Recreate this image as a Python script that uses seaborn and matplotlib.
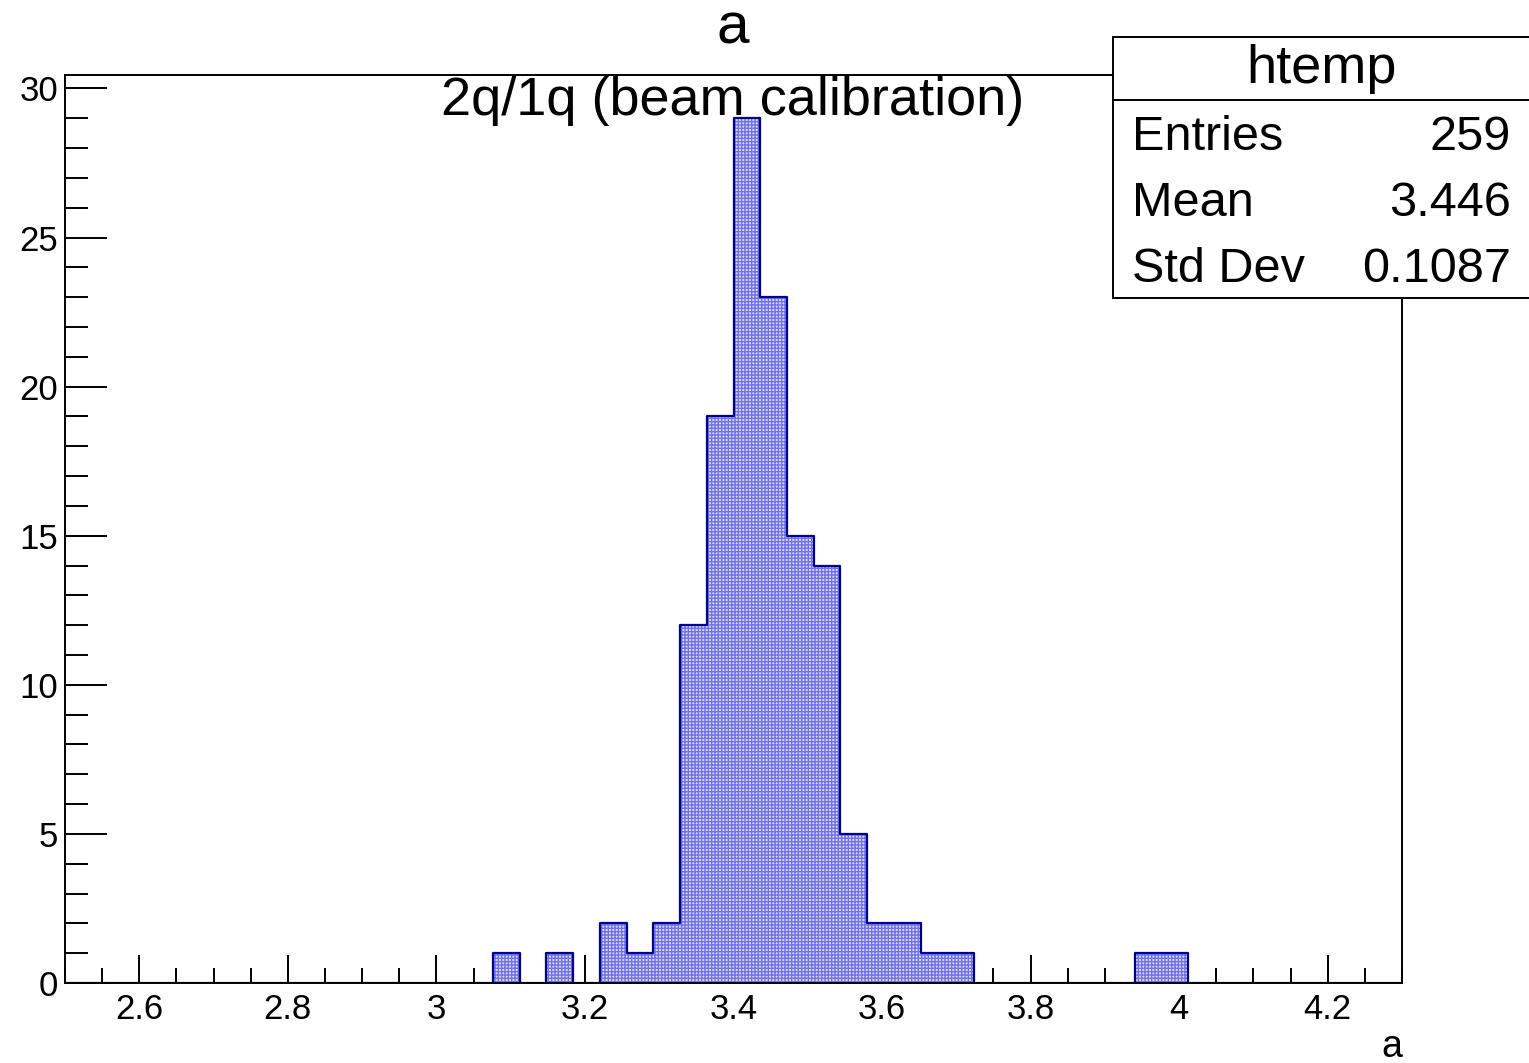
import numpy as np
import pandas as pd
import matplotlib
matplotlib.use("Agg")
import matplotlib.pyplot as plt
from matplotlib.patches import Rectangle
from matplotlib.lines import Line2D
from matplotlib.ticker import MultipleLocator, FuncFormatter
import seaborn as sns

# ---- data ----
x_min, x_max, n_bins = 2.5, 4.3, 50
counts = [0, 0, 0, 0, 0, 0, 0, 0, 0, 0,
          0, 0, 0, 0, 0, 0, 1, 0, 1, 0,
          2, 1, 2, 12, 19, 29, 23, 15, 14, 5,
          2, 2, 1, 1, 0, 0, 0, 0, 0, 0,
          1, 1, 0, 0, 0, 0, 0, 0, 0, 0]
title = "a"
subtitle = "2q/1q (beam calibration)"
x_label = "a"
stats_name = "htemp"
stats_labels = ["Entries", "Mean", "Std Dev"]
stats_values = ["259", "3.446", "0.1087"]

edges = np.linspace(x_min, x_max, n_bins + 1)
centers = 0.5 * (edges[:-1] + edges[1:])
df = pd.DataFrame({"a": centers, "n": counts})

sns.set_theme(style="white")
plt.rcParams["font.family"] = ["Liberation Sans", "DejaVu Sans"]
plt.rcParams["hatch.linewidth"] = 1.0
plt.rcParams["text.color"] = "black"
plt.rcParams["xtick.color"] = "black"
plt.rcParams["ytick.color"] = "black"

W, H = 1529, 1063
fig = plt.figure(figsize=(W / 100, H / 100), dpi=100)
L, R, T, B = 65, 1402, 75, 983
ax = fig.add_axes([L / W, 1 - B / H, (R - L) / W, (B - T) / H])

# filled, hatched body
sns.histplot(data=df, x="a", weights="n", bins=n_bins, binrange=(x_min, x_max),
             element="step", fill=True,
             facecolor="#dedefc", edgecolor="#7070e8", hatch="+++++", linewidth=0,
             alpha=1.0, ax=ax)
# dark blue outline
sns.histplot(data=df, x="a", weights="n", bins=n_bins, binrange=(x_min, x_max),
             element="step", fill=False, color="#000099", linewidth=1.6, ax=ax)

ax.set_xlim(x_min, x_max)
ax.set_ylim(0, max(counts) * 1.05)
ax.set_xlabel("")
ax.set_ylabel("")

ax.xaxis.set_major_locator(MultipleLocator(0.2))
ax.xaxis.set_minor_locator(MultipleLocator(0.05))
ax.yaxis.set_major_locator(MultipleLocator(5))
ax.yaxis.set_minor_locator(MultipleLocator(1))
ax.xaxis.set_major_formatter(FuncFormatter(lambda v, p: f"{v:g}"))
ax.yaxis.set_major_formatter(FuncFormatter(lambda v, p: f"{v:g}"))

ax.tick_params(axis="both", which="both", direction="in", colors="black",
               labelcolor="black",
               top=False, right=False, bottom=True, left=True, width=1.4)
ax.tick_params(axis="x", which="major", length=20, pad=7, labelsize=25)
ax.tick_params(axis="x", which="minor", length=10.5)
ax.tick_params(axis="y", which="major", length=30, pad=5, labelsize=25)
ax.tick_params(axis="y", which="minor", length=16.5)
for s in ax.spines.values():
    s.set_visible(True)
    s.set_color("black")
    s.set_linewidth(1.4)

# titles
fig.text(733 / W, 1 - 43 / H, title, ha="center", va="baseline", fontsize=42)
fig.text(733 / W, 1 - 115 / H, subtitle, ha="center", va="baseline", fontsize=39)
fig.text(R / W, 1 - 1057 / H, x_label, ha="right", va="baseline", fontsize=27)

# stats box
bx0, by0, by1, bline = 1113, 37, 298, 100
fig.patches.append(Rectangle((bx0 / W, 1 - by1 / H), (W + 10 - bx0) / W, (by1 - by0) / H,
                             transform=fig.transFigure, facecolor="white",
                             edgecolor="black", linewidth=1.4, zorder=5))
fig.lines.append(Line2D([bx0 / W, 1.0], [1 - bline / H, 1 - bline / H],
                        transform=fig.transFigure, color="black", linewidth=1.4, zorder=6))
fig.text(1321 / W, 1 - 83 / H, stats_name, ha="center", va="baseline", fontsize=39, zorder=7)
row_base = [150, 216, 282]
for lab, val, yb in zip(stats_labels, stats_values, row_base):
    fig.text(1132 / W, 1 - yb / H, lab, ha="left", va="baseline", fontsize=35, zorder=7)
    fig.text(1511 / W, 1 - yb / H, val, ha="right", va="baseline", fontsize=35, zorder=7)

fig.savefig("out.png", dpi=100, facecolor="white")
